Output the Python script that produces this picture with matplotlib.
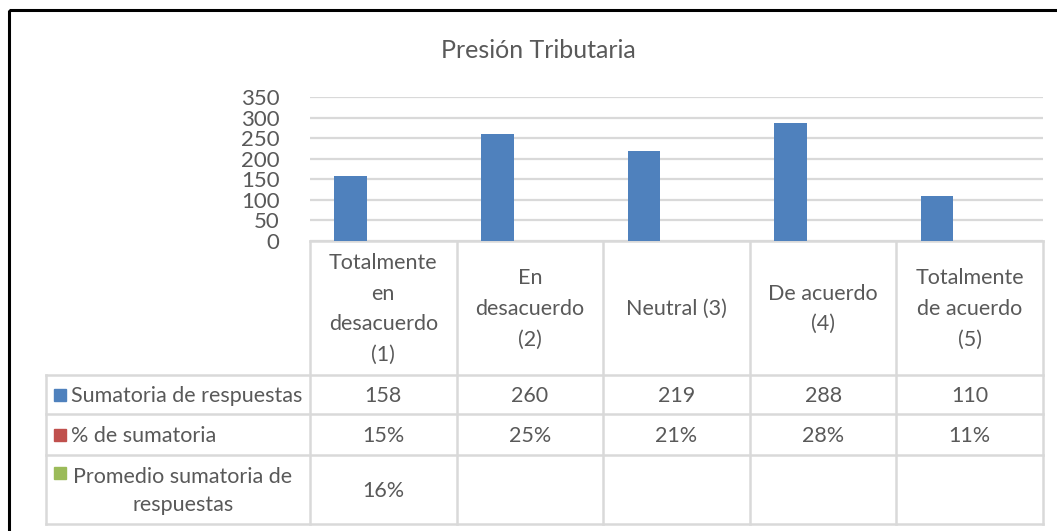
import matplotlib
matplotlib.use('Agg')
import matplotlib.pyplot as plt
import numpy as np

# data
categories = ["Totalmente\nen\ndesacuerdo\n(1)", "En\ndesacuerdo\n(2)", "Neutral (3)",
              "De acuerdo\n(4)", "Totalmente\nde acuerdo\n(5)"]
sumatoria = [158, 260, 219, 288, 110]
pct_sumatoria = [0.15, 0.25, 0.21, 0.28, 0.11]
promedio = [0.16, 0, 0, 0, 0]
series_names = ["Sumatoria de respuestas", "% de sumatoria", "Promedio sumatoria de\nrespuestas"]
series_colors = ['#4f81bd', '#c0504d', '#9bbb59']
yticks = [0, 50, 100, 150, 200, 250, 300, 350]

plt.rcParams['font.family'] = ['Lato', 'DejaVu Sans']
TXT = '#595959'
GRID = '#d9d9d9'
FS = 15.5

W, H = 1057, 531
fig = plt.figure(figsize=(W / 100, H / 100), dpi=100)

# pixel layout
x_left, x_lab, x_right = 310, 46, 1043
y_top, y_zero = 97, 241
row_edges = [241, 375, 414, 455, 524]
ncat = len(categories)
col_w = (x_right - x_left) / ncat

# background axes in pixel coordinates (frame + data table)
bg = fig.add_axes([0, 0, 1, 1])
bg.set_xlim(0, W)
bg.set_ylim(H, 0)
bg.axis('off')
bg.add_patch(plt.Rectangle((8.5, 9.5), 1060, 540, fill=False, ec='black', lw=2.2, zorder=5))

# bar chart axes
ax = fig.add_axes([x_left / W, 1 - y_zero / H, (x_right - x_left) / W, (y_zero - y_top) / H])
xs = np.arange(ncat)
bw = 1 / 4.5
for k, vals in enumerate([sumatoria, pct_sumatoria, promedio]):
    ax.bar(xs + (k - 1) * bw, vals, width=bw, color=series_colors[k], zorder=3)
ax.set_xlim(-0.5, ncat - 0.5)
ax.set_ylim(0, 350)
ax.set_yticks(yticks)
ax.set_yticklabels([str(v) for v in yticks], fontsize=FS + 0.5, color=TXT)
ax.set_xticks([])
ax.tick_params(axis='y', length=0, pad=22)
ax.grid(axis='y', color=GRID, lw=1.6, zorder=0)
for s in ax.spines.values():
    s.set_visible(False)
ax.set_facecolor('none')

fig.text(538 / W, 1 - 50 / H, "Presión Tributaria", ha='center', va='center',
         fontsize=18, color=TXT)

# table lines
lkw = dict(color=GRID, lw=1.8, zorder=2)
col_edges = [x_left + i * col_w for i in range(ncat + 1)]
bg.plot([x_left, x_right], [row_edges[0]] * 2, **lkw)
for y in row_edges[1:]:
    bg.plot([x_lab, x_right], [y, y], **lkw)
for x in col_edges:
    bg.plot([x, x], [row_edges[0], row_edges[-1]], **lkw)
bg.plot([x_lab, x_lab], [row_edges[1], row_edges[-1]], **lkw)

# header row
yc = (row_edges[0] + row_edges[1]) / 2 + 1
for i, cat in enumerate(categories):
    bg.text(col_edges[i] + col_w / 2, yc, cat, ha='center', va='center',
            multialignment='center', fontsize=FS, color=TXT, linespacing=1.66)

# data rows
cells = [[str(v) for v in sumatoria],
         [f"{round(v * 100)}%" for v in pct_sumatoria],
         [f"{round(v * 100)}%" if v else "" for v in promedio]]
for r in range(3):
    y0, y1 = row_edges[r + 1], row_edges[r + 2]
    ym = (y0 + y1) / 2 + 1.5
    for i, txt in enumerate(cells[r]):
        bg.text(col_edges[i] + col_w / 2, ym, txt, ha='center', va='center',
                fontsize=FS, color=TXT)
    if r < 2:
        bg.add_patch(plt.Rectangle((54, ym - 7), 12, 12, color=series_colors[r], zorder=3))
        bg.text(71, ym, series_names[r], ha='left', va='center', fontsize=FS, color=TXT)
    else:
        bg.add_patch(plt.Rectangle((54, 467), 12, 12, color=series_colors[r], zorder=3))
        bg.text(183, ym, series_names[r], ha='center', va='center',
                multialignment='center', fontsize=FS, color=TXT, linespacing=1.45)

fig.savefig('out.png', dpi=100)
